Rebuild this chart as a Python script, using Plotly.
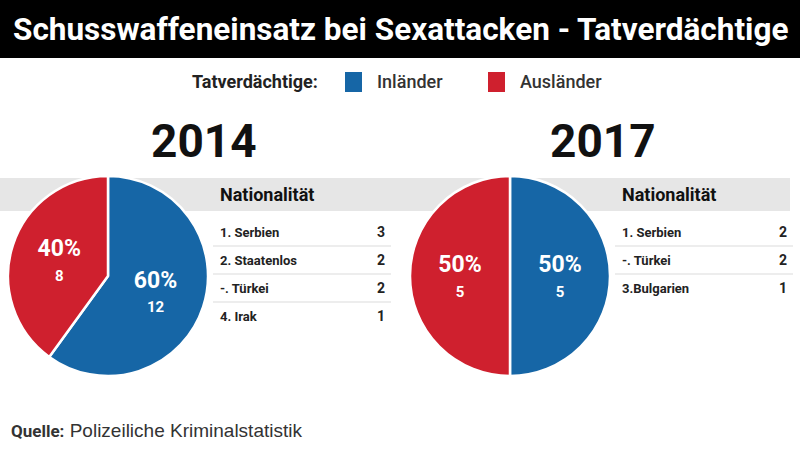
import plotly.graph_objects as go

W, H = 800, 452

title = "Schusswaffeneinsatz bei Sexattacken - Tatverdächtige"
legend_title = "Tatverdächtige:"
groups = ["Inländer", "Ausländer"]
colors = ["#1666a6", "#cf202e"]

years = ["2014", "2017"]
values_2014 = [12, 8]
values_2017 = [5, 5]

table_header = "Nationalität"
nat_2014 = ["1. Serbien", "2. Staatenlos", "-. Türkei", "4. Irak"]
cnt_2014 = [3, 2, 2, 1]
nat_2017 = ["1. Serbien", "-. Türkei", "3.Bulgarien"]
cnt_2017 = [2, 2, 1]

source_label = "Quelle:"
source_text = "Polizeiliche Kriminalstatistik"

COND = "Roboto, Liberation Sans Narrow, sans-serif"
REG = "Liberation Sans, Arial, sans-serif"


def px(x):
    return x / W


def py(y):
    return 1 - y / H


fig = go.Figure()

pie_specs = [
    (values_2014, 8, 208),
    (values_2017, 410, 610),
]
tt = ("<span style='font-size:23px'>%{percent:.0%}</span><br>"
      "<span style='font-size:15px'>%{value}</span>")
for vals, x0, x1 in pie_specs:
    fig.add_trace(go.Pie(
        labels=groups, values=vals, sort=False, direction="clockwise",
        rotation=0,
        marker=dict(colors=colors, line=dict(color="white", width=2.5)),
        texttemplate=tt, textposition="inside", insidetextorientation="horizontal",
        textfont=dict(family=COND, color="white", weight="bold", size=19),
        domain=dict(x=[px(x0), px(x1)], y=[py(376), py(176)]),
        showlegend=False, hoverinfo="label+value+percent",
    ))

shapes = []
annotations = []

# title bar
shapes.append(dict(type="rect", xref="paper", yref="paper", x0=0, x1=1,
                   y0=py(58), y1=1, fillcolor="black", line_width=0, layer="below"))
annotations.append(dict(text=f"<b>{title}</b>", x=0.5, y=py(30), xref="paper", yref="paper",
                        xanchor="center", yanchor="middle", showarrow=False,
                        font=dict(family=COND, size=31.5, color="white")))

# legend
annotations.append(dict(text=f"<b>{legend_title}</b>", x=px(320), y=py(82), xref="paper",
                        yref="paper", xanchor="right", yanchor="middle", showarrow=False,
                        font=dict(family=COND, size=18, color="#222")))
leg_x = [345, 488]
for g, c, lx in zip(groups, colors, leg_x):
    shapes.append(dict(type="rect", xref="paper", yref="paper", x0=px(lx), x1=px(lx + 17),
                       y0=py(92), y1=py(72), fillcolor=c, line_width=0))
    annotations.append(dict(text=g, x=px(lx + 30), y=py(82), xref="paper", yref="paper",
                            xanchor="left", yanchor="middle", showarrow=False,
                            font=dict(family=COND, size=18, color="#333", weight=500)))

# grey band
shapes.append(dict(type="rect", xref="paper", yref="paper", x0=0, x1=px(790),
                   y0=py(211), y1=py(178), fillcolor="#e6e6e6", line_width=0, layer="below"))

# years
for yr, cx in zip(years, [204, 603]):
    annotations.append(dict(text=f"<b>{yr}</b>", x=px(cx), y=py(141), xref="paper", yref="paper",
                            xanchor="center", yanchor="middle", showarrow=False,
                            font=dict(family=COND, size=46, color="#111", weight=900)))

# tables
tables = [(nat_2014, cnt_2014, 218, 387), (nat_2017, cnt_2017, 620, 789)]
for names, cnts, tx0, tx1 in tables:
    annotations.append(dict(text=f"<b>{table_header}</b>", x=px(tx0), y=py(194), xref="paper",
                            yref="paper", xanchor="left", yanchor="middle", showarrow=False,
                            font=dict(family=COND, size=18, color="#111")))
    for i, (n, c) in enumerate(zip(names, cnts)):
        yy = 232 + 28 * i
        annotations.append(dict(text=f"<b>{n}</b>", x=px(tx0), y=py(yy), xref="paper",
                                yref="paper", xanchor="left", yanchor="middle", showarrow=False,
                                font=dict(family=COND, size=13, color="#222")))
        annotations.append(dict(text=f"<b>{c}</b>", x=px(tx1), y=py(yy), xref="paper",
                                yref="paper", xanchor="right", yanchor="middle", showarrow=False,
                                font=dict(family=COND, size=14, color="#222")))
        if i < len(names) - 1:
            shapes.append(dict(type="line", xref="paper", yref="paper", x0=px(tx0 - 5),
                               x1=px(tx1 + 4), y0=py(yy + 14), y1=py(yy + 14),
                               line=dict(color="#dcdcdc", width=1.2)))

# source
annotations.append(dict(
    text=f"<span style='font-family:{COND};font-size:17px'><b>{source_label}</b></span> {source_text}",
    x=px(9), y=py(430), xref="paper", yref="paper", xanchor="left", yanchor="middle",
    showarrow=False, font=dict(family=REG, size=19, color="#333")))

fig.update_layout(
    width=W, height=H, margin=dict(l=0, r=0, t=0, b=0),
    paper_bgcolor="white", plot_bgcolor="white",
    shapes=shapes, annotations=annotations,
)

fig.write_html("out.html", post_script="document.body.style.margin='0';",
               config={"displayModeBar": False})
